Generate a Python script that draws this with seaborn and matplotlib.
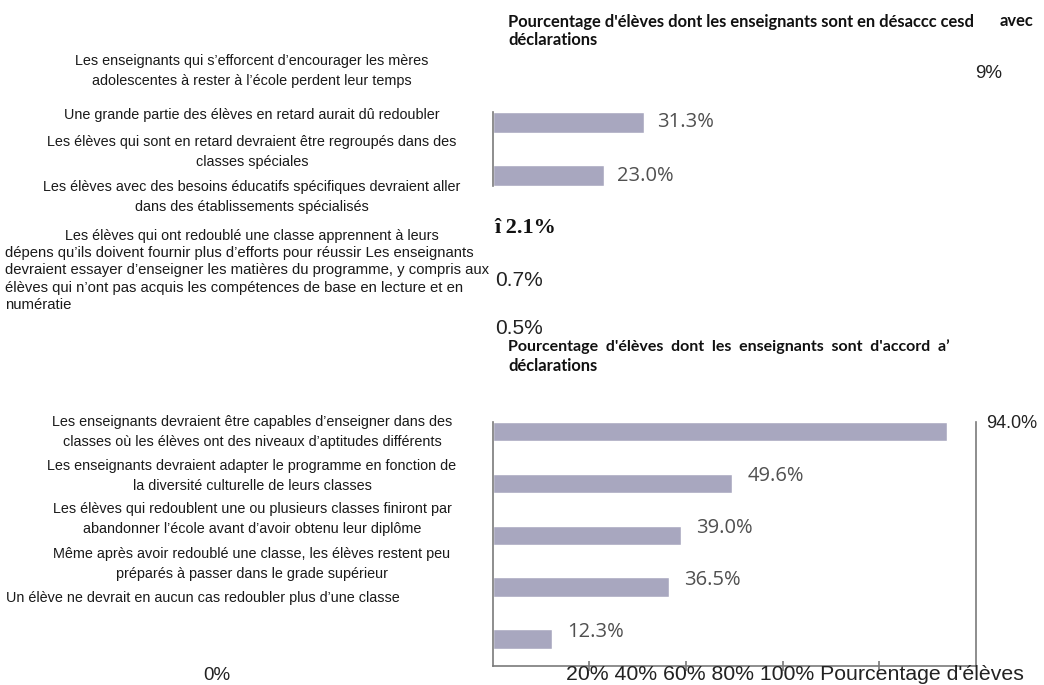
import matplotlib
matplotlib.use("Agg")
import matplotlib.pyplot as plt
import seaborn as sns
import pandas as pd

# ---- data -------------------------------------------------------------
desaccord_titre = "Pourcentage d'élèves dont les enseignants sont en désaccc cesd"
desaccord_titre_suite = "avec"
desaccord_titre_ligne2 = "déclarations"
desaccord_valeurs = [31.3, 23.0]
desaccord_etiquettes = ["31.3%", "23.0%"]
desaccord_petites = ["î 2.1%", "0.7%", "0.5%"]
desaccord_isole = "9%"

desaccord_enonces = [
    "Les enseignants qui s\u2019efforcent d\u2019encourager les mères\nadolescentes à rester à l\u2019école perdent leur temps",
    "Une grande partie des élèves en retard aurait dû redoubler",
    "Les élèves qui sont en retard devraient être regroupés dans des\nclasses spéciales",
    "Les élèves avec des besoins éducatifs spécifiques devraient aller\ndans des établissements spécialisés",
    "Les élèves qui ont redoublé une classe apprennent à leurs",
]
desaccord_paragraphe = [
    "dépens qu\u2019ils doivent fournir plus d\u2019efforts pour réussir Les enseignants",
    "devraient essayer d\u2019enseigner les matières du programme, y compris aux",
    "élèves qui n\u2019ont pas acquis les compétences de base en lecture et en",
    "numératie",
]

accord_titre = "Pourcentage  d'élèves  dont  les  enseignants  sont  d'accord  a\u2019"
accord_titre_ligne2 = "déclarations"
accord_enonces = [
    "Les enseignants devraient être capables d\u2019enseigner dans des\nclasses où les élèves ont des niveaux d\u2019aptitudes différents",
    "Les enseignants devraient adapter le programme en fonction de\nla diversité culturelle de leurs classes",
    "Les élèves qui redoublent une ou plusieurs classes finiront par\nabandonner l\u2019école avant d\u2019avoir obtenu leur diplôme",
    "Même après avoir redoublé une classe, les élèves restent peu\npréparés à passer dans le grade supérieur",
    "Un élève ne devrait en aucun cas redoubler plus d\u2019une classe",
]
accord_valeurs = [94.0, 49.6, 39.0, 36.5, 12.3]
accord_etiquettes = ["94.0%", "49.6%", "39.0%", "36.5%", "12.3%"]

graduations = [20, 40, 60, 80, 100]
axe_titre = "Pourcentage d'élèves"
origine = "0%"

# ---- style ------------------------------------------------------------
sns.set_theme(style="white")
plt.rcParams["font.family"] = ["Liberation Sans", "DejaVu Sans"]

W, H = 1044, 685
BAR = "#a8a7bf"
SPINE = "#7a7a7a"
VAL = "#505050"


def fx(px):
    return px / W


def fy(py):
    return 1 - py / H


fig = plt.figure(figsize=(W / 100, H / 100), dpi=100)

x0, x1 = 492.7, 976.0

# ---- disagreement panel -----------------------------------------------
ax_d = fig.add_axes([fx(x0), fy(186), fx(x1) - fx(x0), (186 - 112) / H])
df_d = pd.DataFrame({"enonce": desaccord_enonces[:2], "valeur": desaccord_valeurs})
sns.barplot(data=df_d, x="valeur", y="enonce", orient="h", color=BAR,
            saturation=1, width=0.4, ax=ax_d)
ax_d.set_xlim(0, 100)
ax_d.set_ylim(1.2, -0.2)
ax_d.set_xticks([])
ax_d.set_yticks([])
ax_d.set_xlabel("")
ax_d.set_ylabel("")
for s in ["top", "right", "bottom"]:
    ax_d.spines[s].set_visible(False)
ax_d.spines["left"].set_color(SPINE)
ax_d.spines["left"].set_linewidth(1.2)
for i, (v, lab) in enumerate(zip(desaccord_valeurs, desaccord_etiquettes)):
    ax_d.annotate(lab, (v, i), xytext=(13, 1 - 2 * i), textcoords="offset pixels",
                  ha="left", va="center", fontsize=14.5, color=VAL,
                  family=["Open Sans", "DejaVu Sans"])

# ---- agreement panel --------------------------------------------------
ax_a = fig.add_axes([fx(x0), fy(666), fx(x1) - fx(x0), (666 - 421.7) / H])
df_a = pd.DataFrame({"enonce": accord_enonces, "valeur": accord_valeurs})
sns.barplot(data=df_a, x="valeur", y="enonce", orient="h", color=BAR,
            saturation=1, width=0.375, ax=ax_a)
ax_a.set_xlim(0, 100)
ax_a.set_ylim(4.52, -0.19)
ax_a.set_xticks(graduations[:-1])
ax_a.set_xticklabels([])
ax_a.set_yticks([])
ax_a.set_xlabel("")
ax_a.set_ylabel("")
ax_a.tick_params(axis="x", direction="inout", length=7, width=1.2,
                 color=SPINE, bottom=True)
ax_a.spines["top"].set_visible(False)
for s in ["left", "right", "bottom"]:
    ax_a.spines[s].set_color(SPINE)
    ax_a.spines[s].set_linewidth(1.2)

for i, (v, lab) in enumerate(zip(accord_valeurs, accord_etiquettes)):
    if i == 0:
        # first label sits outside the frame, to the right
        ax_a.annotate(lab, (100, i), xytext=(10, 8), textcoords="offset pixels",
                      ha="left", va="center", fontsize=13, color="#222222")
    else:
        ax_a.annotate(lab, (v, i), xytext=(15, 7), textcoords="offset pixels",
                      ha="left", va="center", fontsize=14.5, color=VAL,
                      family=["Open Sans", "DejaVu Sans"])

# ---- titles ------------------------------------------------------------
bold = dict(fontweight="bold", family=["Lato", "DejaVu Sans"], color="#111111")
fig.text(fx(508), fy(22), desaccord_titre, ha="left", va="center", fontsize=11.9, **bold)
fig.text(fx(1000), fy(21), desaccord_titre_suite, ha="left", va="center", fontsize=11.9, **bold)
fig.text(fx(508), fy(40), desaccord_titre_ligne2, ha="left", va="center", fontsize=11.9, **bold)
fig.text(fx(975), fy(73), desaccord_isole, ha="left", va="center", fontsize=13.5, color="#222222")

fig.text(fx(508), fy(347), accord_titre, ha="left", va="center", fontsize=11.5, **bold)
fig.text(fx(508), fy(366), accord_titre_ligne2, ha="left", va="center", fontsize=11.9, **bold)

# small values of the disagreement panel
fig.text(fx(494), fy(228), desaccord_petites[0], ha="left", va="center", fontsize=16,
         fontweight="bold", family=["Liberation Serif", "DejaVu Serif"], color="#111111")
fig.text(fx(495), fy(281), desaccord_petites[1], ha="left", va="center", fontsize=15, color="#222222")
fig.text(fx(495), fy(329), desaccord_petites[2], ha="left", va="center", fontsize=15, color="#222222")

# ---- statements ---------------------------------------------------------
lab = dict(fontsize=10.4, color="#1a1a1a", linespacing=1.55)
par = dict(fontsize=10.7, color="#1a1a1a")
ys_d = [71, 115, 152, 197, 236]
for txt, y in zip(desaccord_enonces, ys_d):
    fig.text(fx(252), fy(y), txt, ha="center", va="center", multialignment="center", **lab)
for k, line in enumerate(desaccord_paragraphe):
    fig.text(fx(5), fy(253 + 17.4 * k), line, ha="left", va="center", **par)

ys_a = [432, 476, 519, 564, 598]
for k, (txt, y) in enumerate(zip(accord_enonces, ys_a)):
    if k == len(accord_enonces) - 1:
        fig.text(fx(6), fy(y), txt, ha="left", va="center", **lab)
    else:
        fig.text(fx(252), fy(y), txt, ha="center", va="center", multialignment="center", **lab)

# ---- axis text ----------------------------------------------------------
fig.text(fx(203), fy(676), origine, ha="left", va="center", fontsize=13.5, color="#222222")
axe_texte = " ".join(f"{g}%" for g in graduations) + " " + axe_titre
fig.text(fx(566), fy(675), axe_texte, ha="left", va="center", fontsize=15.3, color="#222222")

fig.savefig("out.png", dpi=100)
